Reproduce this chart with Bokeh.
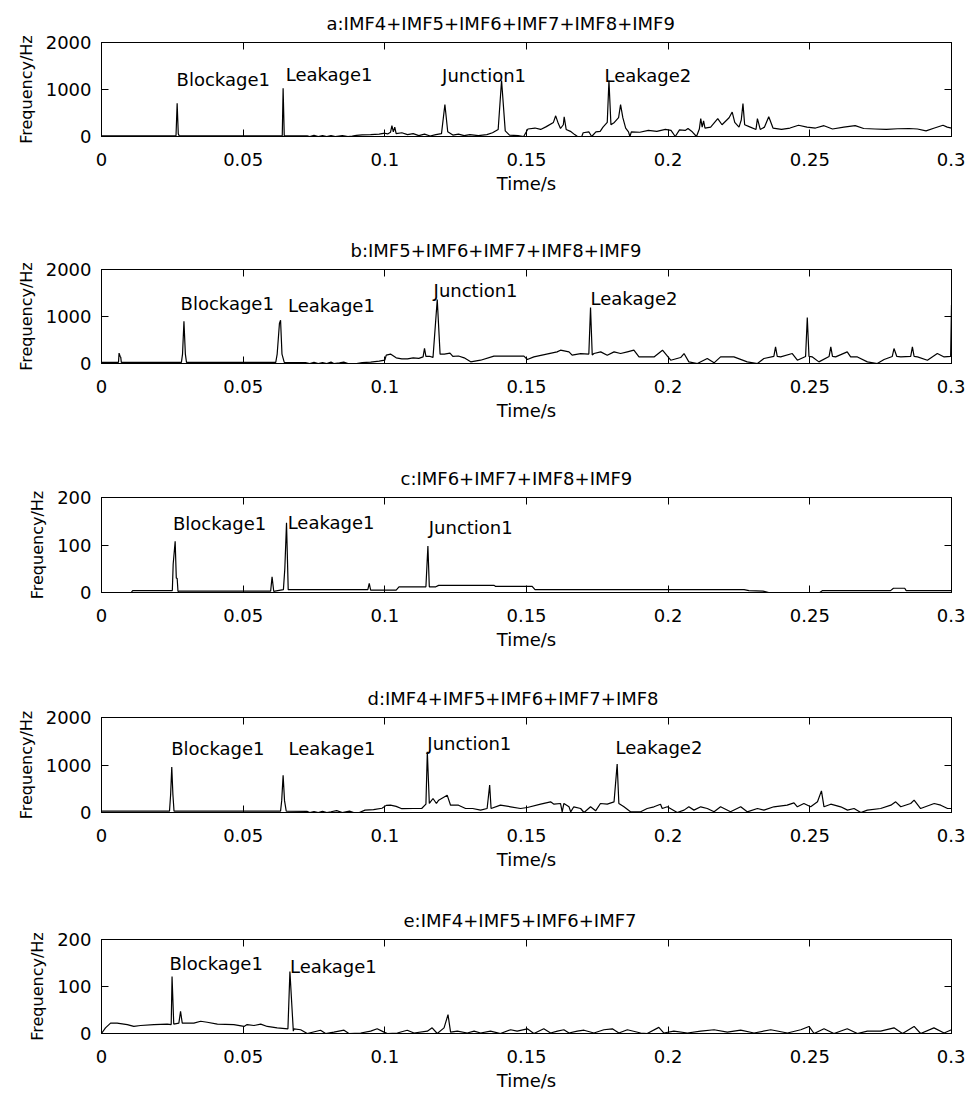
from bokeh.plotting import figure
from bokeh.layouts import column
from bokeh.models import Range1d, FixedTicker, LinearAxis
from bokeh.embed import file_html
from bokeh.resources import INLINE
from bokeh.core.properties import value

FONT = "DejaVu Sans"

X_TICKS = [0, 0.05, 0.1, 0.15, 0.2, 0.25, 0.3]
X_TICK_LABELS = ["0", "0.05", "0.1", "0.15", "0.2", "0.25", "0.3"]
Y_TICKS_BIG = [0, 1000, 2000]
Y_TICKS_SMALL = [0, 100, 200]

TITLES = [
    "a:IMF4+IMF5+IMF6+IMF7+IMF8+IMF9",
    "b:IMF5+IMF6+IMF7+IMF8+IMF9",
    "c:IMF6+IMF7+IMF8+IMF9",
    "d:IMF4+IMF5+IMF6+IMF7+IMF8",
    "e:IMF4+IMF5+IMF6+IMF7",
]

# ---- panel a ----
A_T = [0, 0.0263, 0.0267, 0.0271, 0.0274, 0.0638, 0.0641, 0.0645, 0.0726, 0.0735,
       0.075, 0.0765, 0.078, 0.0795, 0.081, 0.0825, 0.085, 0.087, 0.0885, 0.090,
       0.092, 0.095, 0.098, 0.100, 0.101, 0.102, 0.1025, 0.103, 0.1035, 0.104,
       0.106, 0.108, 0.110, 0.112, 0.114, 0.116, 0.118, 0.120, 0.1212, 0.1222,
       0.124, 0.126, 0.128, 0.130, 0.133, 0.136, 0.138, 0.140, 0.1412, 0.1425,
       0.144, 0.147, 0.149, 0.1505, 0.153, 0.155, 0.157, 0.1595, 0.1603, 0.1612,
       0.162, 0.163, 0.1633, 0.164, 0.1655, 0.167, 0.168, 0.1695, 0.170, 0.172,
       0.173, 0.1745, 0.176, 0.177, 0.1785, 0.1791, 0.1798, 0.181, 0.1825, 0.1832,
       0.184, 0.185, 0.186, 0.1865, 0.187, 0.190, 0.193, 0.196, 0.199, 0.201,
       0.2025, 0.204, 0.206, 0.207, 0.2085, 0.210, 0.211, 0.2115, 0.212, 0.2125,
       0.213, 0.215, 0.2175, 0.219, 0.2215, 0.2226, 0.2235, 0.225, 0.2258, 0.2264,
       0.227, 0.229, 0.231, 0.2315, 0.2325, 0.234, 0.2355, 0.237, 0.240, 0.243,
       0.246, 0.249, 0.252, 0.255, 0.258, 0.262, 0.266, 0.269, 0.273, 0.277,
       0.281, 0.285, 0.288, 0.291, 0.294, 0.297, 0.2985, 0.300]
A_F = [15, 15, 708, 60, 15, 15, 1028, 15, 12, 0,
       25, 0, 20, 0, 22, 0, 20, 0, 10, 25,
       35, 40, 50, 70, 55, 90, 230, 100, 200, 60,
       80, 40, 60, 20, 50, 10, 40, 60, 680, 100,
       30, 50, 20, 40, 20, 40, 80, 150, 1190, 120,
       30, 20, 0, 160, 180, 150, 210, 300, 440, 280,
       170, 250, 420, 150, 110, 40, 0, 0, 80, 100,
       0, 100, 110, 200, 300, 1190, 250, 300, 400, 680,
       400, 180, 100, 0, 100, 90, 130, 110, 150, 130,
       0, 140, 130, 170, 100, 0, 160, 380, 200, 330,
       180, 200, 380, 250, 400, 520, 300, 200, 350, 700,
       250, 200, 150, 380, 150, 200, 420, 180, 150, 180,
       240, 200, 180, 230, 160, 200, 230, 170, 160, 150,
       165, 170, 160, 120, 180, 240, 200, 180]
A_LABELS = ["Blockage1", "Leakage1", "Junction1", "Leakage2"]
A_LABEL_T = [0.0265, 0.0650, 0.1202, 0.1775]
A_LABEL_F = [1210, 1320, 1300, 1300]

# ---- panel b ----
B_T = [0, 0.006, 0.0062, 0.0066, 0.0068, 0.007, 0.0282, 0.0286, 0.0291, 0.0296,
       0.030, 0.0615, 0.062, 0.0628, 0.0632, 0.0637, 0.0645, 0.072, 0.0735, 0.075,
       0.0765, 0.078, 0.0795, 0.081, 0.082, 0.084, 0.0855, 0.087, 0.090, 0.092,
       0.095, 0.098, 0.100, 0.1005, 0.102, 0.104, 0.106, 0.108, 0.110, 0.112,
       0.1135, 0.114, 0.1145, 0.116, 0.117, 0.1185, 0.1195, 0.121, 0.123, 0.124,
       0.126, 0.128, 0.1303, 0.1338, 0.1385, 0.1491, 0.1503, 0.1526, 0.1608, 0.162,
       0.165, 0.1661, 0.1691, 0.172, 0.1726, 0.1732, 0.1738, 0.1762, 0.1785, 0.1809,
       0.1832, 0.1856, 0.1879, 0.1897, 0.195, 0.198, 0.2009, 0.2044, 0.2056, 0.2073,
       0.2103, 0.2138, 0.2162, 0.2185, 0.2232, 0.2279, 0.2315, 0.2338, 0.2373, 0.2379,
       0.2385, 0.2397, 0.2438, 0.2456, 0.2485, 0.2491, 0.2497, 0.2509, 0.2532, 0.2568,
       0.2574, 0.258, 0.2591, 0.2632, 0.2644, 0.2668, 0.2703, 0.2738, 0.2762, 0.2791,
       0.2797, 0.2807, 0.2821, 0.2856, 0.2862, 0.2868, 0.288, 0.2915, 0.295, 0.2974,
       0.2997, 0.300]
B_F = [25, 25, 220, 150, 130, 25, 25, 200, 900, 200,
       25, 25, 200, 850, 920, 200, 25, 20, 0, 25,
       0, 20, 0, 30, 0, 15, 30, 0, 0, 20,
       30, 50, 70, 180, 200, 120, 100, 100, 120, 110,
       140, 320, 150, 150, 130, 1360, 200, 200, 220, 150,
       160, 120, 35, 70, 156, 156, 85, 140, 248, 283,
       248, 177, 212, 200, 1190, 180, 212, 248, 177, 248,
       212, 248, 283, 140, 140, 283, 70, 127, 212, 35,
       0, 106, 14, 140, 140, 35, 0, 106, 150, 354,
       150, 140, 212, 70, 150, 978, 150, 140, 35, 150,
       354, 150, 140, 248, 140, 140, 35, 0, 85, 150,
       319, 150, 140, 150, 354, 150, 140, 70, 212, 140,
       150, 1250]
B_LABELS = ["Blockage1", "Leakage1", "Junction1", "Leakage2"]
B_LABEL_T = [0.0279, 0.0658, 0.1172, 0.1726]
B_LABEL_F = [1270, 1240, 1550, 1380]

# ---- panel c ----
C_T = [0.0105, 0.011, 0.025, 0.0253, 0.026, 0.0264, 0.0267, 0.027, 0.0275, 0.0597,
       0.0602, 0.0608, 0.0612, 0.0642, 0.0647, 0.0653, 0.0659, 0.094, 0.0945, 0.095,
       0.104, 0.105, 0.1145, 0.1152, 0.1157, 0.118, 0.119, 0.1386, 0.139, 0.152,
       0.153, 0.2268, 0.2285, 0.2335, 0.2355, 0.2535, 0.2545, 0.2785, 0.2795, 0.2835,
       0.284, 0.300]
C_F = [0, 4, 4, 60, 108, 30, 30, 2, 3, 3,
       33, 2, 3, 6, 50, 147, 6, 6, 19, 5,
       5, 12, 12, 98, 12, 12, 15, 15, 13, 13,
       6, 6, 4, 3, 0, 0, 4, 4, 9, 9,
       4, 4]
C_LABELS = ["Blockage1", "Leakage1", "Junction1"]
C_LABEL_T = [0.0252, 0.0657, 0.1155]
C_LABEL_F = [145, 148, 137]

# ---- panel d ----
D_T = [0, 0.024, 0.0244, 0.0248, 0.0252, 0.0256, 0.0632, 0.0636, 0.0641, 0.0646,
       0.0652, 0.0725, 0.0735, 0.075, 0.0765, 0.078, 0.0795, 0.081, 0.083, 0.085,
       0.0875, 0.089, 0.091, 0.093, 0.096, 0.099, 0.1005, 0.102, 0.104, 0.106,
       0.110, 0.113, 0.1145, 0.115, 0.1157, 0.117, 0.1182, 0.119, 0.122, 0.1232,
       0.126, 0.1285, 0.131, 0.1338, 0.1361, 0.137, 0.1375, 0.1408, 0.1444, 0.1479,
       0.1503, 0.155, 0.1585, 0.1597, 0.162, 0.1626, 0.1632, 0.165, 0.1656, 0.1667,
       0.1691, 0.1703, 0.1726, 0.1744, 0.1761, 0.1785, 0.1809, 0.182, 0.1826, 0.1844,
       0.1867, 0.1903, 0.1926, 0.195, 0.1973, 0.1979, 0.1997, 0.2032, 0.2056, 0.2073,
       0.2091, 0.2115, 0.2138, 0.2162, 0.2185, 0.222, 0.2256, 0.2279, 0.2315, 0.2338,
       0.2373, 0.242, 0.2444, 0.2456, 0.2479, 0.2503, 0.2527, 0.2541, 0.255, 0.2574,
       0.2609, 0.2633, 0.2656, 0.268, 0.2703, 0.275, 0.2786, 0.2803, 0.2821, 0.2856,
       0.2868, 0.2891, 0.2939, 0.2962, 0.2986, 0.300]
D_F = [28, 28, 380, 960, 380, 28, 28, 250, 786, 250,
       28, 25, 0, 20, 0, 25, 0, 15, 40, 0,
       30, 0, 0, 50, 60, 90, 150, 154, 130, 80,
       84, 84, 175, 1278, 190, 295, 190, 260, 365, 154,
       154, 84, 84, 50, 84, 576, 84, 154, 120, 84,
       105, 175, 225, 175, 190, 14, 190, 120, 14, 120,
       84, 0, 120, 35, 190, 175, 225, 1018, 190, 120,
       14, 14, 84, 120, 175, 84, 120, 0, 50, 120,
       50, 120, 84, 14, 120, 14, 120, 14, 84, 50,
       120, 154, 204, 120, 190, 120, 225, 456, 120, 175,
       120, 50, 84, 0, 50, 84, 154, 225, 120, 190,
       260, 84, 190, 154, 84, 84]
D_LABELS = ["Blockage1", "Leakage1", "Junction1", "Leakage2"]
D_LABEL_T = [0.0246, 0.0660, 0.1150, 0.1814]
D_LABEL_F = [1340, 1340, 1450, 1370]

# ---- panel e ----
E_T = [0, 0.0014, 0.0032, 0.0055, 0.0091, 0.0114, 0.0138, 0.0185, 0.0232, 0.0246,
       0.0249, 0.0255, 0.0273, 0.0279, 0.0285, 0.0326, 0.035, 0.0373, 0.0409, 0.0467,
       0.0503, 0.0514, 0.0538, 0.0562, 0.0585, 0.062, 0.0658, 0.0665, 0.0677, 0.0679,
       0.0703, 0.0726, 0.0773, 0.0791, 0.082, 0.0856, 0.0873, 0.0915, 0.095, 0.0973,
       0.0997, 0.1009, 0.1044, 0.1079, 0.1103, 0.115, 0.1167, 0.1185, 0.1209, 0.1223,
       0.1232, 0.1256, 0.1291, 0.1315, 0.1338, 0.1373, 0.1408, 0.1444, 0.1467, 0.1503,
       0.1526, 0.1561, 0.1585, 0.1609, 0.1632, 0.165, 0.1679, 0.1703, 0.1738, 0.1773,
       0.1803, 0.1826, 0.1856, 0.1903, 0.1926, 0.1967, 0.1985, 0.202, 0.2068, 0.2115,
       0.2162, 0.2209, 0.2256, 0.2303, 0.2362, 0.2421, 0.2468, 0.2497, 0.2515, 0.255,
       0.2585, 0.2632, 0.2668, 0.2703, 0.275, 0.2797, 0.2827, 0.2868, 0.2891, 0.2938,
       0.2974, 0.300]
E_F = [0, 12, 22, 22, 19, 15, 17, 19, 20, 19,
       121, 20, 22, 47, 22, 22, 26, 24, 20, 19,
       15, 19, 17, 20, 15, 12, 10, 132, 5, 10,
       8, 0, 7, 0, 3, 7, 0, 1, 5, 10,
       3, 0, 1, 7, 1, 5, 12, 0, 12, 40,
       3, 5, 1, 5, 1, 5, 0, 8, 5, 10,
       0, 10, 1, 5, 8, 1, 5, 7, 1, 8,
       10, 1, 8, 1, 0, 13, 1, 5, 1, 5,
       8, 3, 7, 1, 8, 1, 8, 15, 0, 10,
       0, 10, 0, 5, 5, 12, 0, 15, 0, 12,
       1, 8]
E_LABELS = ["Blockage1", "Leakage1"]
E_LABEL_T = [0.0240, 0.0665]
E_LABEL_F = [149, 143]


def make_panel(title, t, f, yticks, labels, lt, lf, height, border_bottom, title_offset):
    p = figure(width=965, height=height,
               x_range=Range1d(X_TICKS[0], X_TICKS[-1]),
               y_range=Range1d(yticks[0], yticks[-1]),
               output_backend="svg", toolbar_location=None,
               min_border_left=101, min_border_right=14,
               min_border_top=42, min_border_bottom=border_bottom,
               x_axis_label="Time/s", y_axis_label="Frequency/Hz",
               title=title)
    p.title.align = "left"
    p.title.vertical_align = "top"
    p.title.offset = title_offset
    p.title.text_font = FONT
    p.title.text_font_size = "18px"
    p.title.text_font_style = "normal"
    p.title.text_color = "black"
    p.title.standoff = 14

    p.xgrid.grid_line_color = None
    p.ygrid.grid_line_color = None
    p.outline_line_color = "black"
    p.outline_line_alpha = 1.0
    p.outline_line_width = 1
    p.background_fill_color = "white"
    p.border_fill_color = "white"

    xa = p.xaxis[0]
    xa.ticker = FixedTicker(ticks=X_TICKS)
    xa.major_label_overrides = {tk: lb for tk, lb in zip(X_TICKS, X_TICK_LABELS)}
    ya = p.yaxis[0]
    ya.ticker = FixedTicker(ticks=yticks)
    for ax in (xa, ya):
        ax.major_tick_in = 7
        ax.major_tick_out = 0
        ax.minor_tick_line_color = None
        ax.axis_line_color = "black"
        ax.major_tick_line_color = "black"
        ax.major_label_text_font = FONT
        ax.major_label_text_font_size = "18px"
        ax.major_label_text_color = "black"
        ax.axis_label_text_font = FONT
        ax.axis_label_text_font_style = "normal"
        ax.axis_label_text_color = "black"
    xa.major_label_standoff = 16
    xa.axis_label_standoff = 4
    xa.axis_label_text_font_size = "18px"
    ya.major_label_standoff = 10
    ya.axis_label_standoff = 7
    ya.axis_label_text_font_size = "16px"

    top = LinearAxis(ticker=FixedTicker(ticks=X_TICKS), major_label_text_font_size="1px",
                     major_label_text_color=None, major_label_text_alpha=0,
                     major_label_standoff=0, major_tick_in=7, major_tick_out=0,
                     minor_tick_line_color=None, axis_line_color="black")
    right = LinearAxis(ticker=FixedTicker(ticks=yticks), major_label_text_font_size="1px",
                       major_label_text_color=None, major_label_text_alpha=0,
                       major_label_standoff=0, major_tick_in=7, major_tick_out=0,
                       minor_tick_line_color=None, axis_line_color="black")
    p.add_layout(top, "above")
    p.add_layout(right, "right")

    p.line(t, f, line_color="black", line_width=1.2)
    p.text(x=lt, y=lf, text=labels, text_font=value(FONT), text_font_size=value("18px"),
           text_color="black", text_align="left", text_baseline="alphabetic")
    return p


pa = make_panel(TITLES[0], A_T, A_F, Y_TICKS_BIG, A_LABELS, A_LABEL_T, A_LABEL_F, 227, 91, 225)
pb = make_panel(TITLES[1], B_T, B_F, Y_TICKS_BIG, B_LABELS, B_LABEL_T, B_LABEL_F, 228, 92, 249)
pc = make_panel(TITLES[2], C_T, C_F, Y_TICKS_SMALL, C_LABELS, C_LABEL_T, C_LABEL_F, 220, 83, 299)
pd_ = make_panel(TITLES[3], D_T, D_F, Y_TICKS_BIG, D_LABELS, D_LABEL_T, D_LABEL_F, 222, 85, 266)
pe = make_panel(TITLES[4], E_T, E_F, Y_TICKS_SMALL, E_LABELS, E_LABEL_T, E_LABEL_F, 196, 59, 302)

layout = column(pa, pb, pc, pd_, pe)
open("out.html", "w").write(file_html(layout, INLINE))
